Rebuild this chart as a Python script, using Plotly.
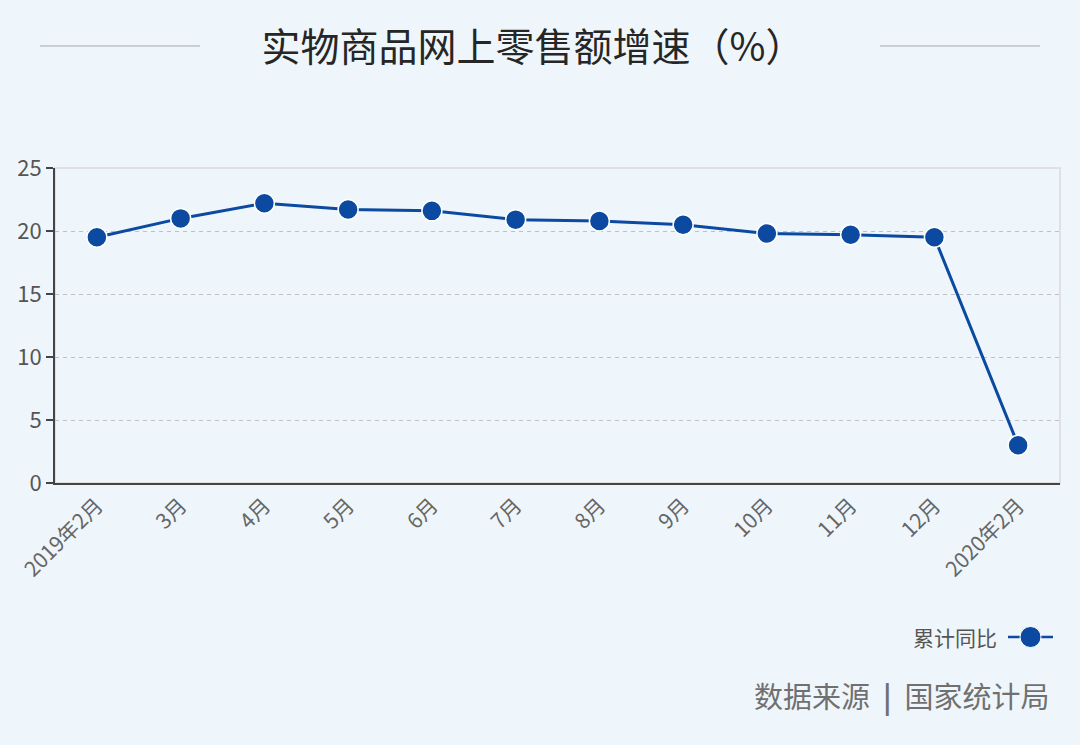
import plotly.graph_objects as go

categories = ["2019年2月", "3月", "4月", "5月", "6月", "7月", "8月", "9月", "10月", "11月", "12月", "2020年2月"]
values = [19.5, 21.0, 22.2, 21.7, 21.6, 20.9, 20.8, 20.5, 19.8, 19.7, 19.5, 3.0]
series_name = "累计同比"
y_ticks = [0, 5, 10, 15, 20, 25]
title_text = "实物商品网上零售额增速（%）"
source_text = "数据来源  <b>|</b>  国家统计局"

W, H = 1080, 745
L, R, T, B = 55, 1060, 168, 483  # plot area pixels

def px(x):
    return (x - L) / (R - L)

def py(y):
    return (B - y) / (B - T)

BG = "#eff6fb"
BLUE = "#0b4aa0"
FONT = "Noto Sans CJK SC"

fig = go.Figure()
fig.add_trace(go.Scatter(
    x=categories, y=values, mode="lines+markers", name=series_name,
    line=dict(color=BLUE, width=3),
    marker=dict(size=20, color=BLUE, line=dict(color="#ffffff", width=1.5)),
    showlegend=False,
))

shapes = [
    dict(type="rect", xref="paper", yref="paper", x0=0, x1=1, y0=0, y1=1,
         line=dict(color="#dcd8dc", width=1.5), layer="below"),
    dict(type="line", xref="paper", yref="paper", x0=px(40), x1=px(200), y0=py(46), y1=py(46),
         line=dict(color="#c9ced4", width=2)),
    dict(type="line", xref="paper", yref="paper", x0=px(880), x1=px(1040), y0=py(46), y1=py(46),
         line=dict(color="#c9ced4", width=2)),
    dict(type="line", xref="paper", yref="paper", x0=px(1008), x1=px(1053), y0=py(637), y1=py(637),
         line=dict(color=BLUE, width=2.5)),
    dict(type="circle", xref="paper", yref="paper", x0=px(1020), x1=px(1041), y0=py(647.5), y1=py(626.5),
         fillcolor=BLUE, line=dict(color="#ffffff", width=1)),
]

annotations = [
    dict(text=series_name, xref="paper", yref="paper", x=px(999), y=py(637),
         xanchor="right", yanchor="middle", showarrow=False,
         font=dict(family=FONT, size=21, color="#555555")),
    dict(text=source_text, xref="paper", yref="paper", x=px(1052), y=py(695),
         xanchor="right", yanchor="middle", showarrow=False,
         font=dict(family=FONT, size=29, color="#707070")),
]

fig.update_layout(
    width=W, height=H,
    margin=dict(l=L, r=W - R, t=T, b=H - B, pad=0),
    paper_bgcolor=BG, plot_bgcolor=BG,
    title=dict(text=title_text, x=533 / W, xanchor="center", y=1 - 47 / H, yanchor="middle",
               font=dict(family=FONT, size=39, color="#262626")),
    font=dict(family=FONT),
    shapes=shapes, annotations=annotations,
    xaxis=dict(
        type="category", showgrid=False, zeroline=False,
        showline=True, linecolor="#444444", linewidth=2,
        tickangle=-45, ticks="", tickfont=dict(family=FONT, size=21, color="#666666"),
        range=[-0.5, len(categories) - 0.5],
    ),
    yaxis=dict(
        range=[0, 25], tickvals=y_ticks, showgrid=True, gridcolor="#bfc0c4", griddash="4px,4px", gridwidth=1,
        zeroline=False, showline=True, linecolor="#444444", linewidth=2,
        ticks="outside", ticklen=7, tickcolor="#444444", tickwidth=2,
        tickfont=dict(family=FONT, size=22, color="#555555"),
    ),
)

fig.write_html("out.html", config={"displayModeBar": False},
               post_script="document.body.style.margin='0';document.body.style.background='%s';" % BG)
